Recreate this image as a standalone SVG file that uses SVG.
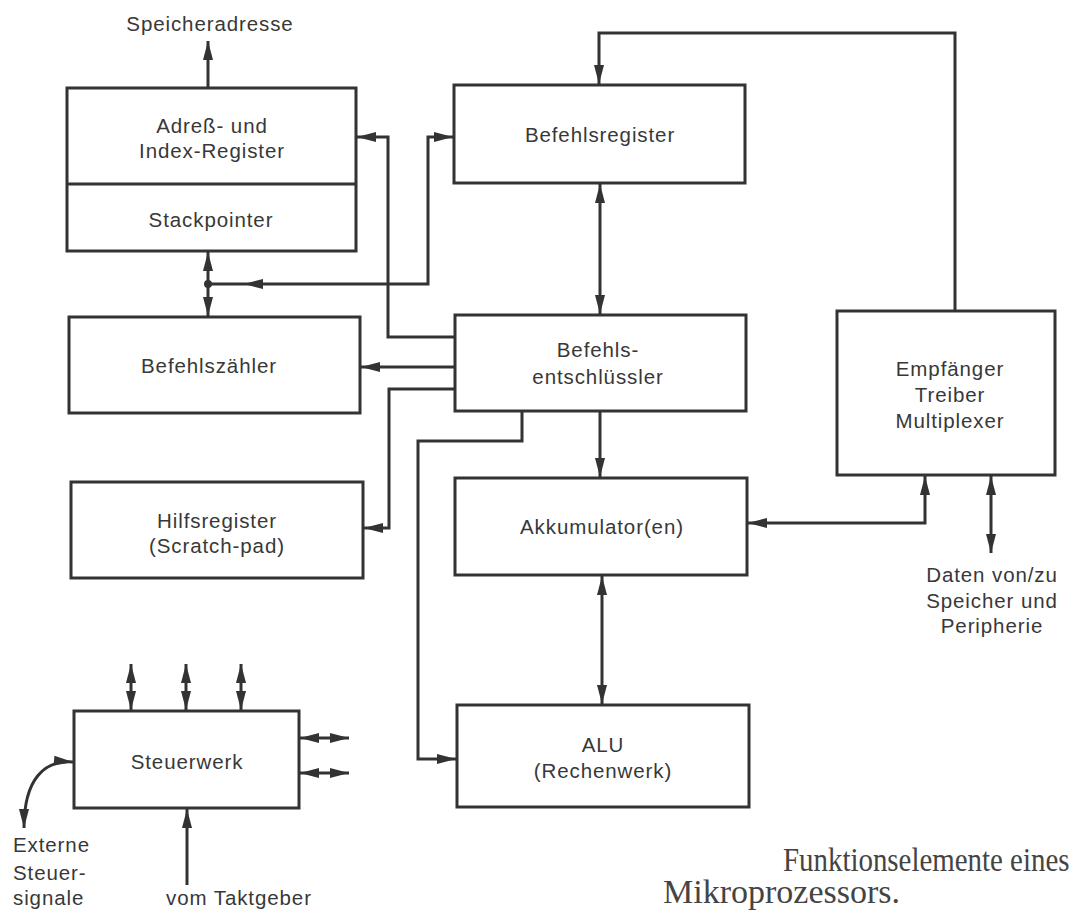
<svg xmlns="http://www.w3.org/2000/svg" width="1081" height="914" viewBox="0 0 1081 914">
  <style>
    .box { fill: none; stroke: #333; stroke-width: 3; }
    .ln { fill: none; stroke: #333; stroke-width: 3; }
    .head { fill: #333; }
    .lbl { font-family: "Liberation Sans", Arial, sans-serif; font-size: 20.5px; letter-spacing: 0.9px; fill: #383838; text-anchor: middle; }
    .left { text-anchor: start; }
    .cap { font-family: "Liberation Serif", "Times New Roman", serif; font-size: 34px; fill: #444; }
  </style>
  <defs>
    <marker id="ah" markerUnits="userSpaceOnUse" markerWidth="20" markerHeight="12" viewBox="0 0 20 12" refX="19" refY="6" orient="auto-start-reverse">
      <path d="M0,1 L19,6 L0,11 z" fill="#333"/>
    </marker>
  </defs>
  <rect width="1081" height="914" fill="#fff"/>

  <!-- connectors -->
  <g id="connectors">
    <!-- memory address out -->
    <path class="ln" d="M208,88 V41" marker-end="url(#ah)"/>
    <!-- decoder to address / index register -->
    <path class="ln" d="M455,337 H388 V137 H357" marker-end="url(#ah)"/>
    <!-- junction to instruction register -->
    <path class="ln" d="M208,284 H428 V137 H453" marker-end="url(#ah)"/>
    <polygon class="head" points="244,284 263,279 263,289"/>
    <!-- stack pointer / program counter bus -->
    <path class="ln" d="M208,252 V316" marker-start="url(#ah)" marker-end="url(#ah)"/>
    <circle class="head" cx="208" cy="284" r="4"/>
    <!-- decoder to program counter -->
    <path class="ln" d="M455,367 H361" marker-end="url(#ah)"/>
    <!-- decoder to scratch-pad -->
    <path class="ln" d="M455,389 H389 V528 H364" marker-end="url(#ah)"/>
    <!-- decoder to ALU -->
    <path class="ln" d="M522,412 V441 H418 V759 H456" marker-end="url(#ah)"/>
    <!-- instruction register to decoder -->
    <path class="ln" d="M600,184 V314" marker-start="url(#ah)" marker-end="url(#ah)"/>
    <!-- bus interface to instruction register -->
    <path class="ln" d="M955,311 V33 H599 V84" marker-end="url(#ah)"/>
    <!-- decoder to accumulator -->
    <path class="ln" d="M600,412 V477" marker-end="url(#ah)"/>
    <!-- accumulator to ALU -->
    <path class="ln" d="M602,576 V704" marker-start="url(#ah)" marker-end="url(#ah)"/>
    <!-- bus interface to accumulator -->
    <path class="ln" d="M925,476 V523 H748" marker-start="url(#ah)" marker-end="url(#ah)"/>
    <!-- external data -->
    <path class="ln" d="M991,476 V553" marker-start="url(#ah)" marker-end="url(#ah)"/>
    <!-- control unit lines -->
    <path class="ln" d="M131,710 V664" marker-start="url(#ah)" marker-end="url(#ah)"/>
    <path class="ln" d="M186,710 V664" marker-start="url(#ah)" marker-end="url(#ah)"/>
    <path class="ln" d="M241,710 V664" marker-start="url(#ah)" marker-end="url(#ah)"/>
    <path class="ln" d="M300,738 H349" marker-start="url(#ah)" marker-end="url(#ah)"/>
    <path class="ln" d="M300,773 H349" marker-start="url(#ah)" marker-end="url(#ah)"/>
    <path class="ln" d="M187,885 V809" marker-end="url(#ah)"/>
    <path class="ln" d="M73,762 C45,760 24,778 24,828" marker-start="url(#ah)" marker-end="url(#ah)"/>
  </g>

  <g id="adress-register">
    <rect class="box" x="67" y="88" width="289" height="163"/>
    <line class="ln" x1="67" y1="184" x2="356" y2="184"/>
    <text class="lbl" x="212" y="133">Adreß- und</text>
    <text class="lbl" x="212" y="158">Index-Register</text>
    <text class="lbl" x="211" y="227">Stackpointer</text>
  </g>
  <g id="befehlsregister">
    <rect class="box" x="454" y="85" width="291" height="98"/>
    <text class="lbl" x="600" y="142">Befehlsregister</text>
  </g>
  <g id="befehlszaehler">
    <rect class="box" x="69" y="317" width="291" height="96"/>
    <text class="lbl" x="209" y="373">Befehlszähler</text>
  </g>
  <g id="befehlsentschluessler">
    <rect class="box" x="455" y="315" width="291" height="96"/>
    <text class="lbl" x="598" y="357">Befehls-</text>
    <text class="lbl" x="598" y="384">entschlüssler</text>
  </g>
  <g id="hilfsregister">
    <rect class="box" x="71" y="482" width="292" height="96"/>
    <text class="lbl" x="217" y="528">Hilfsregister</text>
    <text class="lbl" x="217" y="553">(Scratch-pad)</text>
  </g>
  <g id="empfaenger">
    <rect class="box" x="837" y="311" width="218" height="164"/>
    <text class="lbl" x="950" y="376">Empfänger</text>
    <text class="lbl" x="950" y="402">Treiber</text>
    <text class="lbl" x="950" y="428">Multiplexer</text>
  </g>
  <g id="akkumulator">
    <rect class="box" x="455" y="478" width="292" height="97"/>
    <text class="lbl" x="602" y="534">Akkumulator(en)</text>
  </g>
  <g id="alu">
    <rect class="box" x="457" y="705" width="292" height="102"/>
    <text class="lbl" x="603" y="752">ALU</text>
    <text class="lbl" x="603" y="778">(Rechenwerk)</text>
  </g>
  <g id="steuerwerk">
    <rect class="box" x="74" y="711" width="225" height="97"/>
    <text class="lbl" x="187" y="769">Steuerwerk</text>
  </g>

  <g id="labels">
    <text class="lbl" x="210" y="31">Speicheradresse</text>
    <text class="lbl" x="992" y="582">Daten von/zu</text>
    <text class="lbl" x="992" y="608">Speicher und</text>
    <text class="lbl" x="992" y="633">Peripherie</text>
    <text class="lbl left" x="13" y="852">Externe</text>
    <text class="lbl left" x="13" y="880">Steuer-</text>
    <text class="lbl left" x="13" y="905">signale</text>
    <text class="lbl" x="239" y="905">vom Taktgeber</text>
  </g>

  <g id="caption">
    <!-- first caption line is set slightly condensed -->
    <text class="cap" transform="translate(783,871) scale(0.85,1)" x="0" y="0">Funktionselemente eines</text>
    <text class="cap" x="663" y="903">Mikroprozessors.</text>
  </g>
</svg>
